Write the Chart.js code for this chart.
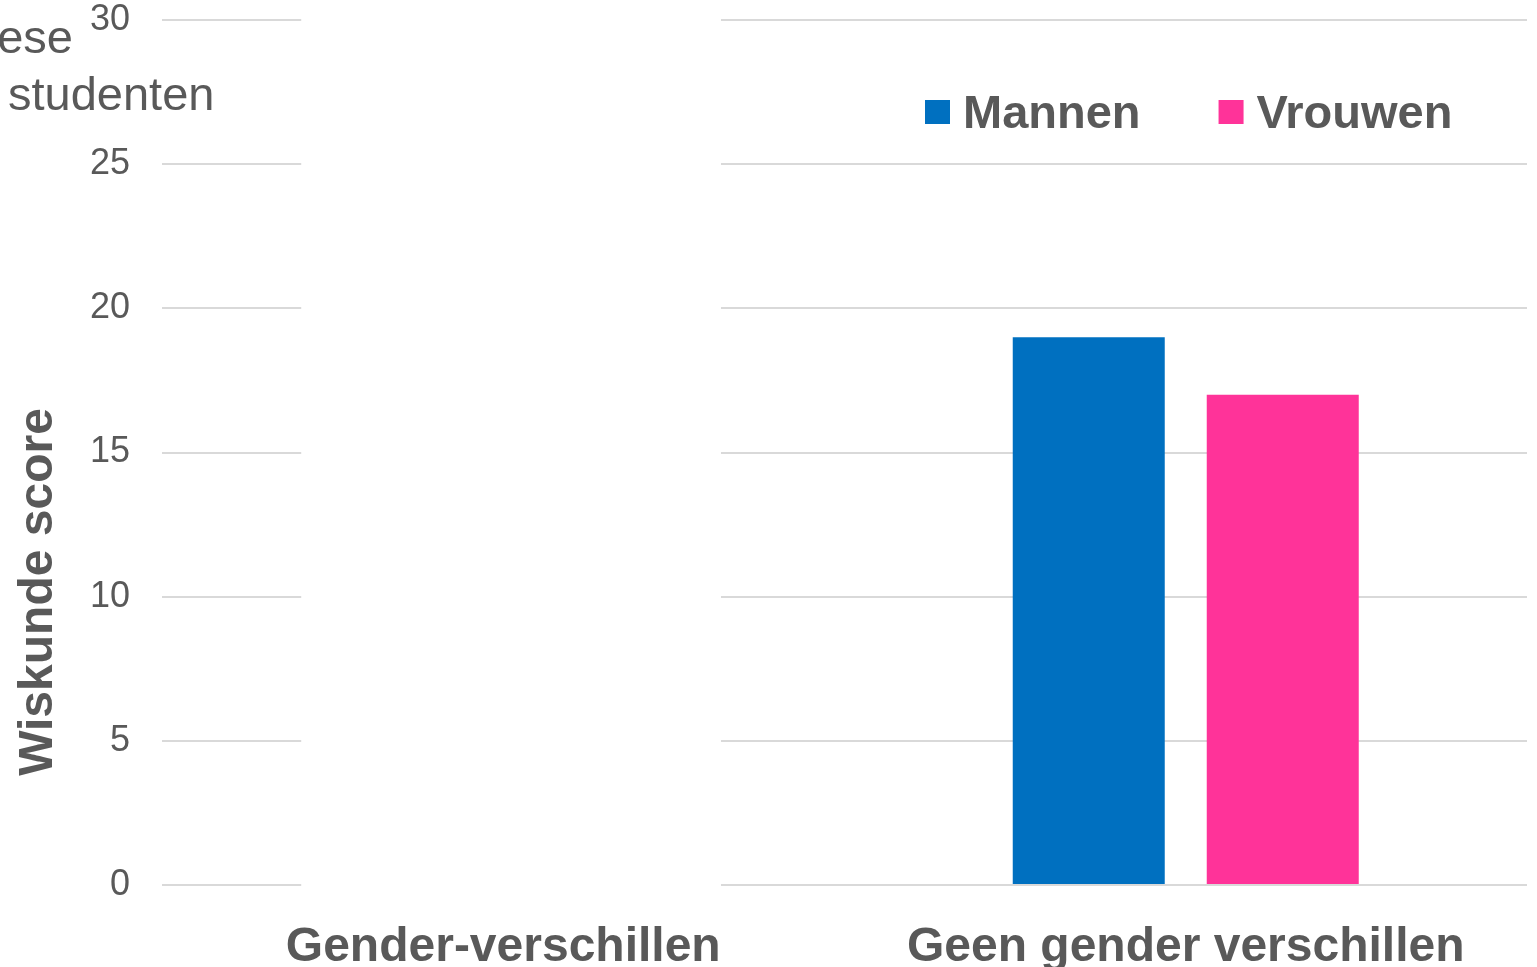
<!DOCTYPE html>
<html>
<head>
<meta charset="utf-8">
<script src="https://cdn.jsdelivr.net/npm/chart.js@4.4.1/dist/chart.umd.min.js"></script>
<style>
  html, body { margin: 0; padding: 0; background: #ffffff; }
  #wrap { width: 1537px; height: 967px; }
</style>
</head>
<body>
<div id="wrap"><canvas id="c" width="1537" height="967"></canvas></div>
<script>
// ---- data ----
const categories = ['Gender-verschillen', 'Geen gender verschillen'];
const seriesNames = ['Mannen', 'Vrouwen'];
const mannenValues = [null, 19];
const vrouwenValues = [null, 17];
const seriesColors = ['#0070C0', '#FF3399'];
const yTicks = [0, 5, 10, 15, 20, 25, 30];
const yAxisTitle = 'Wiskunde score';
const cornerTextLines = ['ese', 'studenten'];

const TEXT = '#595959';
const FONT = '"Liberation Sans", Arial, Helvetica, sans-serif';

// white panel hiding the gridlines around the first category
const coverPlugin = {
  id: 'cover',
  beforeDatasetsDraw(chart) {
    const x = chart.scales.x, ca = chart.chartArea;
    const cw = (ca.right - ca.left) / categories.length;
    const c0 = x.getPixelForValue(0);
    const ctx = chart.ctx;
    ctx.save();
    ctx.fillStyle = '#ffffff';
    ctx.fillRect(c0 - 0.296 * cw, 0, 0.296 * cw + 0.319 * cw, ca.bottom + 3);
    ctx.restore();
  }
};

// custom texts: y title, corner text, legend inside plot
const textPlugin = {
  id: 'texts',
  afterDraw(chart) {
    const ctx = chart.ctx, ca = chart.chartArea;
    ctx.save();
    ctx.fillStyle = TEXT;
    // y axis title
    ctx.font = 'bold 48px ' + FONT;
    ctx.textAlign = 'center';
    ctx.textBaseline = 'middle';
    ctx.translate(39, 592);
    ctx.rotate(-Math.PI / 2);
    ctx.fillText(yAxisTitle, 0, 0);
    ctx.setTransform(1, 0, 0, 1, 0, 0);
    // corner text
    ctx.font = '47px ' + FONT;
    ctx.textBaseline = 'alphabetic';
    ctx.textAlign = 'right';
    ctx.fillText(cornerTextLines[0], 73, 53);
    ctx.textAlign = 'left';
    ctx.fillText(cornerTextLines[1], 8, 110);
    // legend
    ctx.font = 'bold 47px ' + FONT;
    let lx = ca.left + 763;
    const by = 100, bs = 24;
    chart.data.datasets.forEach((ds, i) => {
      ctx.fillStyle = ds.backgroundColor;
      ctx.fillRect(lx, by, bs + 1, bs);
      ctx.fillStyle = TEXT;
      ctx.textAlign = 'left';
      ctx.fillText(ds.label, lx + bs + 14, 128);
      lx += bs + 14 + ctx.measureText(ds.label).width + 78;
    });
    ctx.restore();
  }
};

new Chart(document.getElementById('c'), {
  type: 'bar',
  data: {
    labels: categories,
    datasets: [
      { label: seriesNames[0], data: mannenValues, backgroundColor: seriesColors[0] },
      { label: seriesNames[1], data: vrouwenValues, backgroundColor: seriesColors[1] }
    ]
  },
  options: {
    responsive: false,
    animation: false,
    devicePixelRatio: 1,
    layout: { padding: { top: 20, right: 10, left: 0, bottom: 0 } },
    datasets: { bar: { categoryPercentage: 0.5685, barPercentage: 0.7835 } },
    plugins: { legend: { display: false }, tooltip: { enabled: false }, title: { display: false } },
    scales: {
      x: {
        grid: { display: false },
        border: { display: false },
        ticks: { color: TEXT, font: { family: FONT, size: 48, weight: 'bold' }, padding: 26, maxRotation: 0, autoSkip: false },
        afterFit(s) { s.height = 82; s.paddingLeft = 0; s.paddingRight = 0; }
      },
      y: {
        min: 0, max: 30,
        afterBuildTicks(s) { s.ticks = yTicks.map(v => ({ value: v })); },
        grid: { color: '#D9D9D9', lineWidth: 2, drawTicks: false },
        border: { display: false },
        ticks: { color: TEXT, font: { family: FONT, size: 36 }, padding: 32 },
        afterFit(s) { s.width = 162; s.paddingTop = 0; s.paddingBottom = 0; }
      }
    }
  },
  plugins: [coverPlugin, textPlugin]
});
</script>
</body>
</html>
